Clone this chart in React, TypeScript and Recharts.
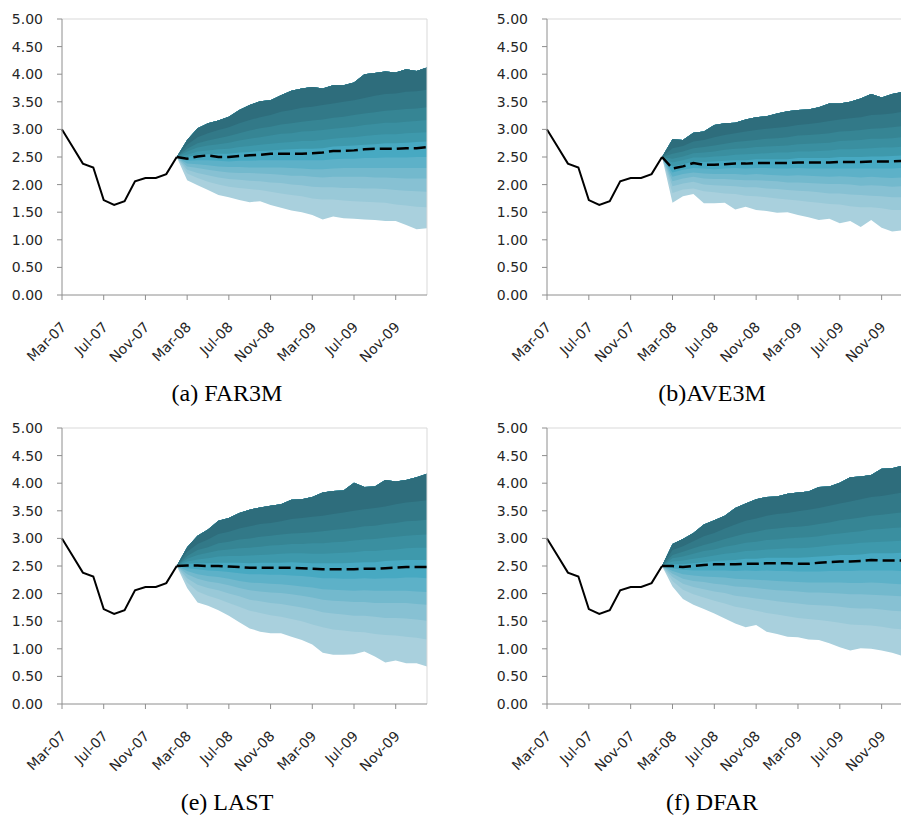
import React from 'react';
import { ComposedChart, Area, Line, XAxis, YAxis, ReferenceLine } from 'recharts';

// ---------- shared axis data ----------
const MONTHS = [
  'Mar-07', 'Apr-07', 'May-07', 'Jun-07', 'Jul-07', 'Aug-07', 'Sep-07', 'Oct-07', 'Nov-07', 'Dec-07', 'Jan-08', 'Feb-08',
  'Mar-08', 'Apr-08', 'May-08', 'Jun-08', 'Jul-08', 'Aug-08', 'Sep-08', 'Oct-08', 'Nov-08', 'Dec-08', 'Jan-09', 'Feb-09',
  'Mar-09', 'Apr-09', 'May-09', 'Jun-09', 'Jul-09', 'Aug-09', 'Sep-09', 'Oct-09', 'Nov-09', 'Dec-09', 'Jan-10', 'Feb-10',
];
const X_TICKS = [0, 4, 8, 12, 16, 20, 24, 28, 32];
const Y_TICKS = [0, 0.5, 1, 1.5, 2, 2.5, 3, 3.5, 4, 4.5, 5];

// realised series, Mar-07 .. Feb-08
const HISTORY = [3.0, 2.69, 2.38, 2.31, 1.72, 1.63, 1.7, 2.06, 2.12, 2.12, 2.19, 2.5];
const FORECAST_START = 11; // Feb-08

// fan band boundaries, bottom to top, Feb-08 .. Feb-10
const FAR3M_LINES = [
  [2.50, 2.08, 1.99, 1.90, 1.81, 1.77, 1.72, 1.68, 1.70, 1.63, 1.58, 1.53, 1.50, 1.45, 1.37, 1.42, 1.39, 1.38, 1.37, 1.36, 1.34, 1.34, 1.27, 1.19, 1.21],
  [2.50, 2.20, 2.12, 2.05, 2.00, 1.96, 1.94, 1.92, 1.90, 1.87, 1.84, 1.81, 1.79, 1.75, 1.73, 1.73, 1.71, 1.70, 1.69, 1.68, 1.67, 1.64, 1.62, 1.60, 1.59],
  [2.50, 2.27, 2.21, 2.17, 2.13, 2.10, 2.09, 2.07, 2.06, 2.04, 2.03, 2.00, 1.99, 1.96, 1.95, 1.95, 1.94, 1.94, 1.93, 1.93, 1.92, 1.90, 1.89, 1.88, 1.87],
  [2.50, 2.33, 2.30, 2.27, 2.24, 2.22, 2.21, 2.21, 2.20, 2.19, 2.18, 2.16, 2.16, 2.14, 2.13, 2.14, 2.14, 2.14, 2.14, 2.13, 2.13, 2.12, 2.11, 2.11, 2.11],
  [2.50, 2.38, 2.37, 2.35, 2.33, 2.32, 2.32, 2.31, 2.31, 2.31, 2.31, 2.30, 2.29, 2.28, 2.28, 2.29, 2.30, 2.30, 2.30, 2.30, 2.30, 2.30, 2.30, 2.30, 2.30],
  [2.50, 2.43, 2.44, 2.44, 2.43, 2.42, 2.43, 2.43, 2.44, 2.44, 2.44, 2.44, 2.44, 2.44, 2.44, 2.46, 2.47, 2.47, 2.48, 2.48, 2.49, 2.49, 2.49, 2.50, 2.50],
  [2.50, 2.50, 2.54, 2.55, 2.56, 2.56, 2.58, 2.59, 2.61, 2.62, 2.63, 2.64, 2.65, 2.65, 2.66, 2.69, 2.70, 2.71, 2.72, 2.73, 2.75, 2.75, 2.76, 2.77, 2.78],
  [2.50, 2.54, 2.60, 2.62, 2.64, 2.65, 2.68, 2.70, 2.72, 2.74, 2.76, 2.77, 2.79, 2.79, 2.81, 2.83, 2.85, 2.86, 2.88, 2.90, 2.91, 2.91, 2.93, 2.94, 2.95],
  [2.50, 2.60, 2.67, 2.71, 2.73, 2.76, 2.80, 2.83, 2.86, 2.89, 2.92, 2.93, 2.96, 2.97, 2.99, 3.01, 3.03, 3.05, 3.08, 3.10, 3.12, 3.12, 3.14, 3.15, 3.17],
  [2.50, 2.65, 2.75, 2.80, 2.84, 2.88, 2.93, 2.98, 3.02, 3.05, 3.09, 3.11, 3.14, 3.16, 3.18, 3.21, 3.23, 3.26, 3.29, 3.31, 3.34, 3.35, 3.37, 3.38, 3.40],
  [2.50, 2.72, 2.86, 2.93, 2.99, 3.04, 3.11, 3.17, 3.22, 3.26, 3.32, 3.35, 3.39, 3.41, 3.44, 3.47, 3.50, 3.53, 3.57, 3.61, 3.64, 3.65, 3.68, 3.69, 3.72],
  [2.50, 2.81, 3.02, 3.11, 3.16, 3.23, 3.35, 3.44, 3.51, 3.53, 3.62, 3.70, 3.74, 3.77, 3.74, 3.80, 3.80, 3.85, 4.00, 4.02, 4.05, 4.03, 4.09, 4.06, 4.12],
];
const FAR3M_MEDIAN = [2.50, 2.47, 2.51, 2.53, 2.50, 2.50, 2.52, 2.53, 2.54, 2.56, 2.56, 2.56, 2.56, 2.57, 2.58, 2.61, 2.61, 2.62, 2.64, 2.65, 2.65, 2.65, 2.66, 2.66, 2.68];

const AVE3M_LINES = [
  [2.50, 1.67, 1.79, 1.83, 1.66, 1.66, 1.67, 1.55, 1.60, 1.54, 1.52, 1.49, 1.50, 1.45, 1.41, 1.36, 1.38, 1.30, 1.34, 1.23, 1.36, 1.22, 1.15, 1.17, 1.16],
  [2.50, 1.85, 1.91, 1.93, 1.88, 1.86, 1.84, 1.83, 1.80, 1.79, 1.77, 1.75, 1.73, 1.71, 1.69, 1.67, 1.65, 1.64, 1.61, 1.59, 1.59, 1.57, 1.54, 1.54, 1.53],
  [2.50, 1.97, 2.02, 2.05, 2.00, 1.99, 1.98, 1.97, 1.95, 1.95, 1.93, 1.92, 1.90, 1.89, 1.88, 1.86, 1.84, 1.84, 1.82, 1.81, 1.80, 1.79, 1.77, 1.77, 1.76],
  [2.50, 2.06, 2.11, 2.14, 2.11, 2.10, 2.10, 2.09, 2.08, 2.08, 2.07, 2.06, 2.04, 2.04, 2.03, 2.02, 2.01, 2.01, 2.00, 1.98, 1.99, 1.98, 1.96, 1.97, 1.96],
  [2.50, 2.14, 2.19, 2.22, 2.20, 2.19, 2.19, 2.19, 2.18, 2.19, 2.18, 2.17, 2.16, 2.17, 2.16, 2.15, 2.14, 2.15, 2.14, 2.13, 2.14, 2.13, 2.12, 2.13, 2.12],
  [2.50, 2.22, 2.27, 2.30, 2.29, 2.28, 2.29, 2.30, 2.29, 2.30, 2.30, 2.29, 2.29, 2.30, 2.29, 2.29, 2.29, 2.29, 2.29, 2.29, 2.29, 2.29, 2.29, 2.30, 2.29],
  [2.50, 2.33, 2.37, 2.42, 2.41, 2.42, 2.43, 2.44, 2.44, 2.46, 2.46, 2.46, 2.46, 2.48, 2.48, 2.48, 2.48, 2.50, 2.50, 2.50, 2.51, 2.51, 2.52, 2.53, 2.53],
  [2.50, 2.40, 2.44, 2.49, 2.49, 2.51, 2.52, 2.54, 2.55, 2.56, 2.57, 2.58, 2.58, 2.60, 2.60, 2.61, 2.62, 2.64, 2.64, 2.65, 2.66, 2.67, 2.67, 2.69, 2.69],
  [2.50, 2.47, 2.51, 2.57, 2.58, 2.60, 2.63, 2.65, 2.66, 2.68, 2.69, 2.70, 2.71, 2.73, 2.74, 2.75, 2.76, 2.79, 2.80, 2.81, 2.83, 2.83, 2.84, 2.86, 2.87],
  [2.50, 2.56, 2.60, 2.66, 2.68, 2.71, 2.74, 2.77, 2.79, 2.81, 2.83, 2.84, 2.86, 2.89, 2.90, 2.91, 2.93, 2.96, 2.97, 2.99, 3.01, 3.02, 3.04, 3.06, 3.07],
  [2.50, 2.66, 2.70, 2.78, 2.81, 2.86, 2.90, 2.93, 2.96, 2.99, 3.01, 3.03, 3.05, 3.08, 3.10, 3.12, 3.15, 3.18, 3.20, 3.22, 3.26, 3.27, 3.29, 3.32, 3.33],
  [2.50, 2.82, 2.81, 2.94, 2.96, 3.08, 3.11, 3.12, 3.18, 3.22, 3.24, 3.29, 3.33, 3.35, 3.36, 3.40, 3.47, 3.47, 3.50, 3.56, 3.64, 3.58, 3.64, 3.68, 3.70],
];
const AVE3M_MEDIAN = [2.50, 2.29, 2.33, 2.39, 2.36, 2.36, 2.37, 2.38, 2.38, 2.39, 2.39, 2.39, 2.39, 2.40, 2.40, 2.40, 2.40, 2.41, 2.41, 2.41, 2.42, 2.42, 2.42, 2.43, 2.43];

const LAST_LINES = [
  [2.50, 2.10, 1.84, 1.78, 1.70, 1.60, 1.48, 1.37, 1.31, 1.28, 1.28, 1.22, 1.16, 1.08, 0.93, 0.89, 0.89, 0.90, 0.95, 0.86, 0.75, 0.79, 0.74, 0.74, 0.68],
  [2.50, 2.20, 2.04, 1.96, 1.90, 1.83, 1.76, 1.69, 1.65, 1.61, 1.58, 1.54, 1.50, 1.44, 1.39, 1.35, 1.33, 1.31, 1.30, 1.27, 1.25, 1.24, 1.22, 1.20, 1.17],
  [2.50, 2.28, 2.16, 2.10, 2.06, 2.00, 1.95, 1.89, 1.86, 1.83, 1.81, 1.78, 1.75, 1.71, 1.66, 1.64, 1.62, 1.60, 1.60, 1.58, 1.56, 1.56, 1.55, 1.53, 1.51],
  [2.50, 2.35, 2.27, 2.22, 2.19, 2.15, 2.10, 2.06, 2.04, 2.02, 2.01, 1.99, 1.96, 1.93, 1.89, 1.87, 1.86, 1.85, 1.85, 1.83, 1.83, 1.83, 1.83, 1.81, 1.80],
  [2.50, 2.41, 2.35, 2.32, 2.30, 2.27, 2.23, 2.20, 2.19, 2.18, 2.17, 2.15, 2.13, 2.11, 2.08, 2.07, 2.06, 2.05, 2.06, 2.05, 2.05, 2.05, 2.05, 2.04, 2.03],
  [2.50, 2.46, 2.44, 2.42, 2.41, 2.39, 2.37, 2.35, 2.35, 2.34, 2.34, 2.33, 2.32, 2.30, 2.28, 2.28, 2.27, 2.27, 2.28, 2.27, 2.28, 2.28, 2.29, 2.29, 2.28],
  [2.50, 2.54, 2.55, 2.55, 2.56, 2.56, 2.56, 2.55, 2.56, 2.56, 2.56, 2.57, 2.56, 2.55, 2.55, 2.55, 2.55, 2.56, 2.57, 2.57, 2.59, 2.60, 2.61, 2.61, 2.61],
  [2.50, 2.58, 2.62, 2.64, 2.67, 2.68, 2.68, 2.69, 2.70, 2.71, 2.72, 2.73, 2.73, 2.72, 2.72, 2.73, 2.74, 2.75, 2.77, 2.77, 2.79, 2.80, 2.82, 2.83, 2.83],
  [2.50, 2.63, 2.70, 2.74, 2.78, 2.80, 2.82, 2.83, 2.85, 2.87, 2.88, 2.90, 2.90, 2.91, 2.91, 2.93, 2.94, 2.96, 2.98, 2.99, 3.01, 3.03, 3.05, 3.06, 3.07],
  [2.50, 2.68, 2.79, 2.84, 2.91, 2.94, 2.98, 3.00, 3.03, 3.05, 3.07, 3.09, 3.10, 3.11, 3.13, 3.15, 3.17, 3.19, 3.22, 3.23, 3.26, 3.28, 3.31, 3.32, 3.34],
  [2.50, 2.76, 2.90, 2.98, 3.08, 3.12, 3.18, 3.22, 3.26, 3.28, 3.31, 3.35, 3.37, 3.39, 3.41, 3.44, 3.47, 3.50, 3.53, 3.55, 3.58, 3.62, 3.65, 3.67, 3.69],
  [2.50, 2.84, 3.05, 3.16, 3.32, 3.37, 3.46, 3.52, 3.56, 3.59, 3.62, 3.70, 3.71, 3.75, 3.83, 3.86, 3.87, 4.01, 3.93, 3.94, 4.06, 4.03, 4.06, 4.11, 4.17],
];
const LAST_MEDIAN = [2.50, 2.51, 2.51, 2.50, 2.50, 2.49, 2.48, 2.47, 2.47, 2.47, 2.47, 2.47, 2.46, 2.45, 2.44, 2.44, 2.44, 2.44, 2.45, 2.45, 2.46, 2.47, 2.48, 2.48, 2.48];

const DFAR_LINES = [
  [2.50, 2.13, 1.90, 1.80, 1.72, 1.64, 1.55, 1.46, 1.39, 1.43, 1.31, 1.27, 1.22, 1.21, 1.17, 1.16, 1.10, 1.03, 0.97, 1.01, 1.00, 0.97, 0.93, 0.87, 0.86],
  [2.50, 2.23, 2.07, 1.99, 1.93, 1.87, 1.82, 1.76, 1.73, 1.69, 1.65, 1.62, 1.59, 1.56, 1.54, 1.52, 1.50, 1.47, 1.44, 1.43, 1.42, 1.40, 1.37, 1.35, 1.33],
  [2.50, 2.30, 2.18, 2.12, 2.08, 2.04, 2.01, 1.96, 1.94, 1.91, 1.89, 1.86, 1.84, 1.82, 1.80, 1.79, 1.78, 1.76, 1.74, 1.73, 1.73, 1.71, 1.69, 1.68, 1.66],
  [2.50, 2.36, 2.27, 2.23, 2.21, 2.18, 2.16, 2.13, 2.12, 2.10, 2.08, 2.06, 2.05, 2.04, 2.02, 2.02, 2.01, 2.00, 1.99, 1.99, 1.98, 1.97, 1.96, 1.95, 1.94],
  [2.50, 2.41, 2.35, 2.33, 2.31, 2.30, 2.29, 2.27, 2.26, 2.25, 2.24, 2.23, 2.22, 2.21, 2.20, 2.20, 2.20, 2.20, 2.19, 2.19, 2.20, 2.19, 2.18, 2.17, 2.17],
  [2.50, 2.46, 2.43, 2.42, 2.42, 2.42, 2.42, 2.41, 2.42, 2.41, 2.42, 2.41, 2.41, 2.40, 2.40, 2.40, 2.41, 2.41, 2.41, 2.42, 2.42, 2.42, 2.42, 2.41, 2.41],
  [2.50, 2.53, 2.53, 2.55, 2.57, 2.59, 2.60, 2.61, 2.63, 2.63, 2.65, 2.65, 2.65, 2.65, 2.66, 2.67, 2.68, 2.70, 2.70, 2.71, 2.73, 2.73, 2.73, 2.74, 2.74],
  [2.50, 2.58, 2.60, 2.63, 2.66, 2.69, 2.72, 2.74, 2.77, 2.78, 2.80, 2.81, 2.82, 2.82, 2.83, 2.85, 2.87, 2.89, 2.90, 2.92, 2.93, 2.94, 2.95, 2.96, 2.97],
  [2.50, 2.64, 2.67, 2.72, 2.77, 2.80, 2.85, 2.88, 2.92, 2.94, 2.97, 2.98, 3.00, 3.01, 3.02, 3.04, 3.07, 3.09, 3.11, 3.13, 3.16, 3.17, 3.19, 3.20, 3.21],
  [2.50, 2.70, 2.76, 2.82, 2.88, 2.93, 2.99, 3.04, 3.09, 3.12, 3.16, 3.18, 3.20, 3.21, 3.23, 3.26, 3.29, 3.33, 3.35, 3.38, 3.41, 3.43, 3.45, 3.47, 3.49],
  [2.50, 2.79, 2.86, 2.95, 3.04, 3.10, 3.18, 3.25, 3.32, 3.36, 3.41, 3.44, 3.46, 3.49, 3.52, 3.55, 3.59, 3.63, 3.67, 3.71, 3.75, 3.77, 3.80, 3.83, 3.86],
  [2.50, 2.90, 2.99, 3.10, 3.25, 3.33, 3.41, 3.55, 3.63, 3.71, 3.75, 3.76, 3.81, 3.83, 3.85, 3.93, 3.94, 4.01, 4.11, 4.12, 4.15, 4.26, 4.27, 4.32, 4.35],
];
const DFAR_MEDIAN = [2.50, 2.50, 2.48, 2.50, 2.52, 2.53, 2.53, 2.53, 2.54, 2.54, 2.55, 2.55, 2.55, 2.54, 2.54, 2.56, 2.57, 2.58, 2.58, 2.59, 2.61, 2.60, 2.60, 2.60, 2.60];

// band fills, lightest (bottom) to darkest (top)
const BAND_COLORS = [
  '#a9d0dd', '#99c9d8', '#87c1d3', '#73b9cd', '#5db1c8', '#47a9c2',
  '#3e99ac', '#3a8fa0', '#368594', '#327988', '#2e6d7c',
];

const AXIS_COLOR = '#8e8e8e';
const BORDER_COLOR = '#d9d9d9';
const FONT = '"DejaVu Sans", sans-serif';
const TICK_FONT_SIZE = 14;

// each layer spans from its lower boundary up to the fan's top, drawn bottom-up,
// so the visible part of layer b is the band between boundary b and b+1 (no seams)
function buildRows(lines: number[][], median: number[]) {
  const top = lines[lines.length - 1];
  return MONTHS.map((m, i) => {
    const row: any = { i, month: m };
    if (i < HISTORY.length) row.hist = HISTORY[i];
    const k = i - FORECAST_START;
    if (k >= 0) {
      row.med = median[k];
      for (let b = 0; b < lines.length - 1; b++) {
        row['b' + b] = [lines[b][k], top[k]];
      }
    }
    return row;
  });
}

const XTick = (props: any) => {
  const { x, y, payload } = props;
  return (
    <g transform={`translate(${x + 5},${y + 26})`}>
      <text
        x={0}
        y={0}
        textAnchor="end"
        transform="rotate(-45)"
        fontSize={TICK_FONT_SIZE}
        fontFamily={FONT}
        fill="#262626"
      >
        {MONTHS[payload.value]}
      </text>
    </g>
  );
};

type PanelProps = {
  lines: number[][];
  median: number[];
  left: number;
  top: number;
  plotWidth: number;
  plotHeight: number;
  caption: string;
  captionX: number;
  captionY: number;
};

const Panel = ({ lines, median, left, top, plotWidth, plotHeight, caption, captionX, captionY }: PanelProps) => {
  const rows = buildRows(lines, median);
  const yAxisW = 62;
  const mTop = 18;
  const xAxisH = 100;
  const width = yAxisW + plotWidth + 3;
  const height = mTop + plotHeight + xAxisH;
  return (
    <>
      <div style={{ position: 'absolute', left, top, width, height }}>
        <ComposedChart
          width={width}
          height={height}
          data={rows}
          margin={{ top: mTop, right: 3, bottom: 0, left: 0 }}
        >
          <XAxis
            type="number"
            dataKey="i"
            domain={[0, 35]}
            ticks={X_TICKS}
            interval={0}
            allowDecimals={false}
            height={xAxisH}
            tickSize={5}
            axisLine={{ stroke: AXIS_COLOR }}
            tickLine={{ stroke: AXIS_COLOR }}
            tick={<XTick />}
          />
          <YAxis
            type="number"
            domain={[0, 5]}
            ticks={Y_TICKS}
            interval={0}
            width={yAxisW}
            tickSize={5}
            tickMargin={14}
            axisLine={{ stroke: AXIS_COLOR }}
            tickLine={{ stroke: AXIS_COLOR }}
            tickFormatter={(v: number) => v.toFixed(2)}
            tick={{ fontSize: TICK_FONT_SIZE, fontFamily: FONT, fill: '#262626' }}
          />
          {BAND_COLORS.map((c, b) => (
            <Area
              key={'b' + b}
              type="linear"
              dataKey={'b' + b}
              stroke="none"
              fill={c}
              fillOpacity={1}
              dot={false}
              activeDot={false}
              isAnimationActive={false}
            />
          ))}
          <ReferenceLine y={5} stroke={BORDER_COLOR} strokeWidth={1} />
          <ReferenceLine x={35} stroke={BORDER_COLOR} strokeWidth={1} />
          <Line
            type="linear"
            dataKey="hist"
            stroke="#000"
            strokeWidth={2}
            dot={false}
            activeDot={false}
            isAnimationActive={false}
          />
          <Line
            type="linear"
            dataKey="med"
            stroke="#000"
            strokeWidth={2.5}
            strokeDasharray="12 5"
            dot={false}
            activeDot={false}
            isAnimationActive={false}
          />
        </ComposedChart>
      </div>
      <div
        style={{
          position: 'absolute',
          left: captionX - 150,
          width: 300,
          top: captionY - 17,
          textAlign: 'center',
          fontFamily: '"Liberation Serif", "Times New Roman", serif',
          fontSize: 24,
          lineHeight: '28px',
          color: '#000',
          whiteSpace: 'pre',
        }}
      >
        {caption}
      </div>
    </>
  );
};

export default function App() {
  return (
    <div
      style={{
        position: 'absolute',
        left: 0,
        top: 0,
        width: 901,
        height: 817,
        overflow: 'hidden',
        background: '#fff',
      }}
    >
      <Panel lines={FAR3M_LINES} median={FAR3M_MEDIAN} left={0} top={1} plotWidth={365} plotHeight={276}
        caption="(a) FAR3M" captionX={227} captionY={396} />
      <Panel lines={AVE3M_LINES} median={AVE3M_MEDIAN} left={485} top={1} plotWidth={366} plotHeight={276}
        caption="(b)AVE3M" captionX={712} captionY={396} />
      <Panel lines={LAST_LINES} median={LAST_MEDIAN} left={0} top={410} plotWidth={365} plotHeight={276}
        caption="(e) LAST" captionX={227} captionY={805} />
      <Panel lines={DFAR_LINES} median={DFAR_MEDIAN} left={485} top={410} plotWidth={366} plotHeight={276}
        caption="(f) DFAR" captionX={712} captionY={805} />
    </div>
  );
}
